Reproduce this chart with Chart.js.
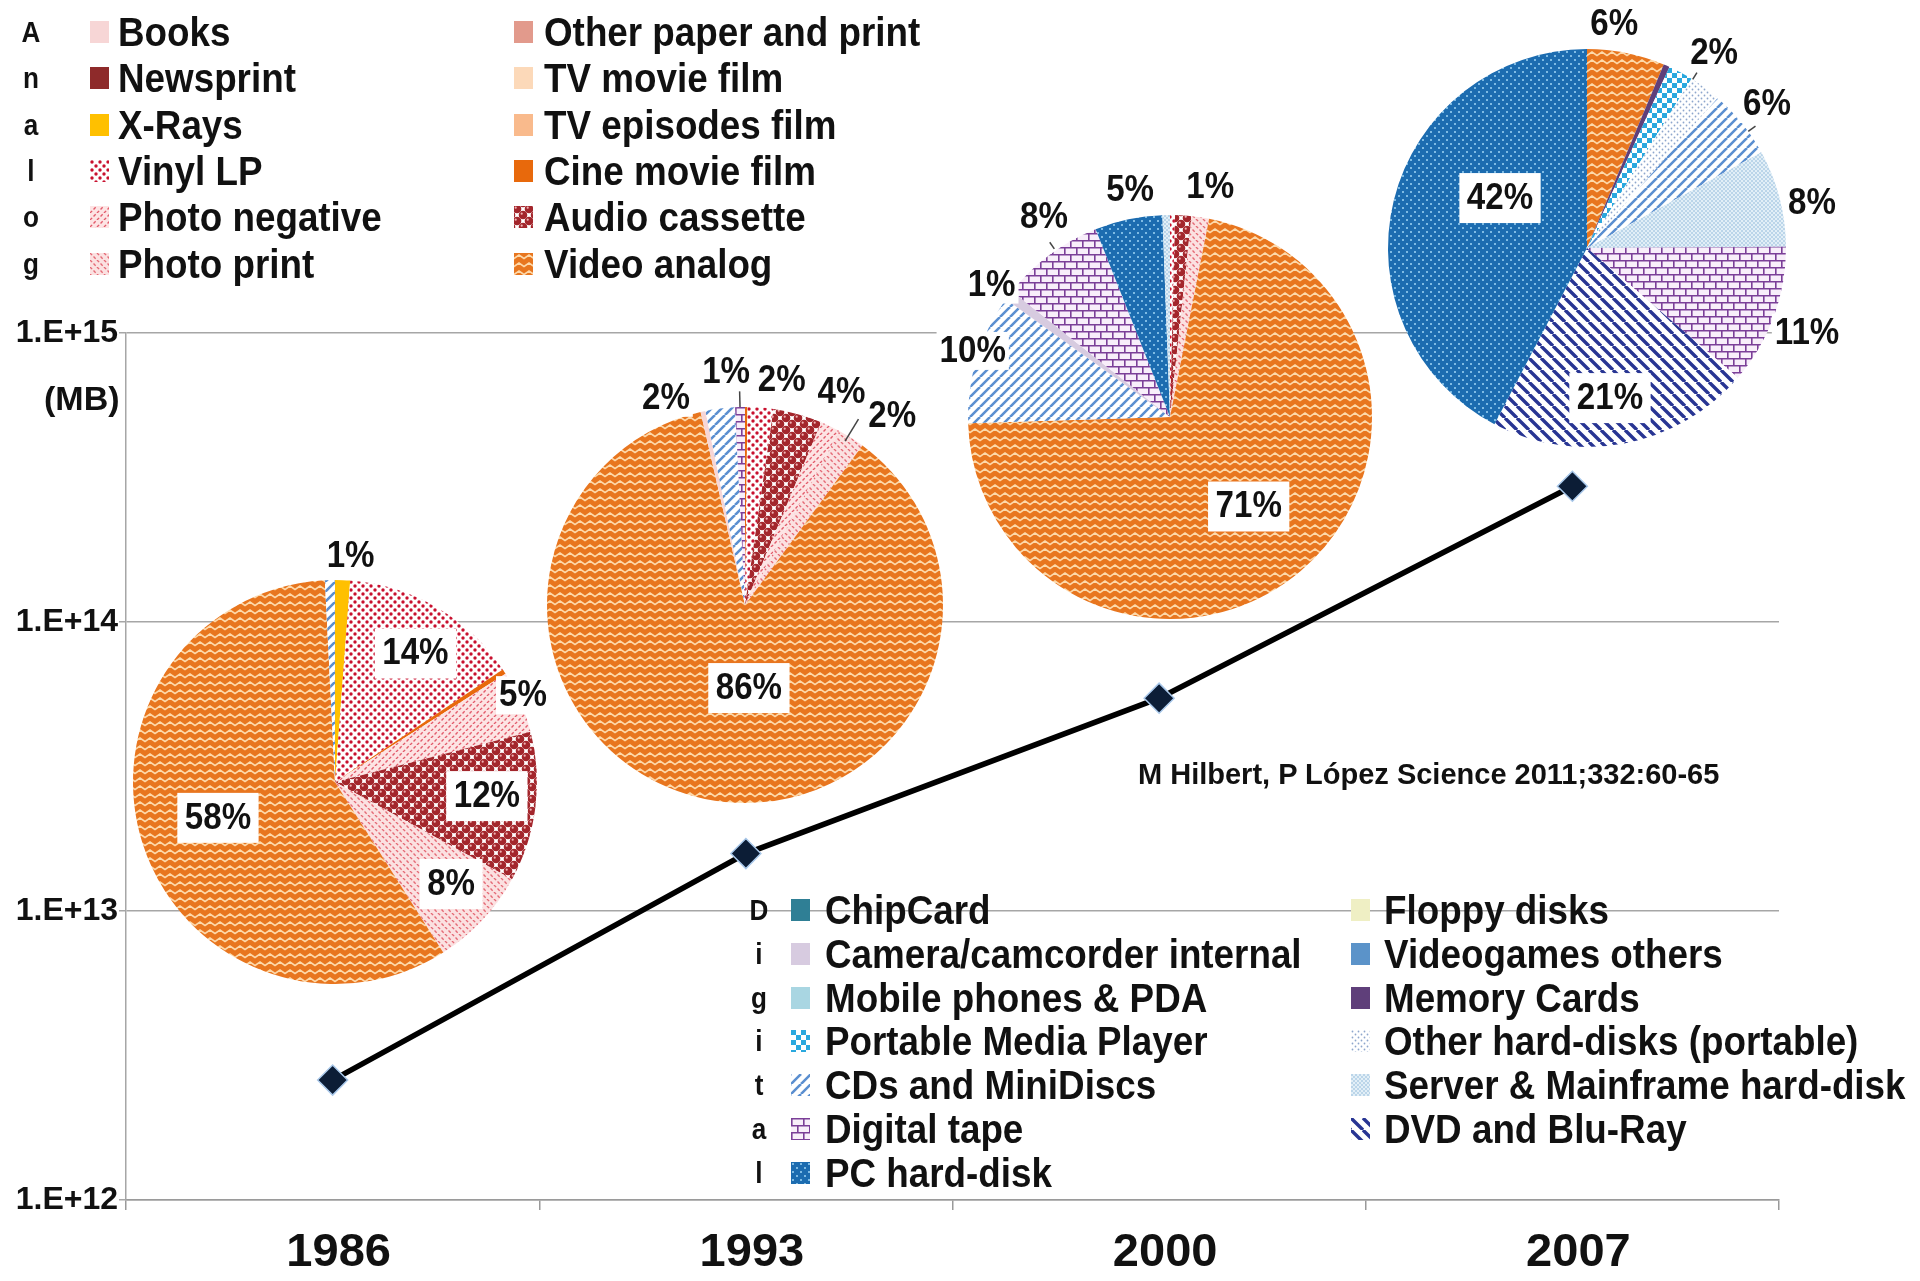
<!DOCTYPE html>
<html><head><meta charset="utf-8">
<script src="https://cdn.jsdelivr.net/npm/chart.js@4.4.1/dist/chart.umd.min.js"></script>
<style>
html,body{margin:0;padding:0;background:#fff;}
#wrap{position:relative;width:1920px;height:1281px;overflow:hidden;background:#fff;}
#wrap canvas{position:absolute;}
.t{position:absolute;white-space:nowrap;color:#111;line-height:1;transform:translateY(-50%);
   font-family:'Liberation Sans',Arial,sans-serif;}
.leg{font-weight:bold;font-size:40px;transform:translateY(-50%) scaleX(0.92);transform-origin:left center;}
.let{font-size:29px;font-weight:bold;transform:translate(-50%,-50%) scaleX(0.9);}
</style></head>
<body><div id="wrap"><canvas id="main" width="1920" height="1281"></canvas></div>
<script>
// ---------------- data ----------------
const years = ['1986', '1993', '2000', '2007'];
const storageMB = [2.6e12, 1.58e13, 5.45e13, 2.95e14];
const yTickValues = [1e12, 1e13, 1e14, 1e15];
const yTickLabels = ['1.E+12', '1.E+13', '1.E+14', '1.E+15'];

const analogCol1 = ['Books', 'Newsprint', 'X-Rays', 'Vinyl LP', 'Photo negative', 'Photo print'];
const analogCol2 = ['Other paper and print', 'TV movie film', 'TV episodes film', 'Cine movie film', 'Audio cassette', 'Video analog'];
const digitalCol1 = ['ChipCard', 'Camera/camcorder internal', 'Mobile phones & PDA', 'Portable Media Player', 'CDs and MiniDiscs', 'Digital tape', 'PC hard-disk'];
const digitalCol2 = ['Floppy disks', 'Videogames others', 'Memory Cards', 'Other hard-disks (portable)', 'Server & Mainframe hard-disk', 'DVD and Blu-Ray'];

const slices1986 = ['X-Rays', 'Vinyl LP', 'Cine movie film', 'Photo negative', 'Audio cassette', 'Photo print', 'Video analog', 'CDs and MiniDiscs'];
const shares1986 = [1.2, 14.4, 0.4, 5.0, 12.0, 8.0, 58.2, 0.8];
const slices1993 = ['Cine movie film', 'Vinyl LP', 'Audio cassette', 'Photo negative', 'Photo print', 'Video analog', 'Books', 'CDs and MiniDiscs', 'Digital tape'];
const shares1993 = [0.2, 2.1, 4.0, 1.6, 2.2, 86.3, 0.4, 2.4, 0.8];
const slices2000 = ['Vinyl LP', 'Audio cassette', 'Photo print', 'Video analog', 'CDs and MiniDiscs', 'Camera/camcorder internal', 'Digital tape', 'PC hard-disk', 'Server & Mainframe hard-disk'];
const shares2000 = [0.4, 1.3, 1.4, 71.4, 10.4, 0.8, 8.3, 5.4, 0.6];
const slices2007 = ['Video analog', 'Memory Cards', 'Portable Media Player', 'Other hard-disks (portable)', 'CDs and MiniDiscs', 'Server & Mainframe hard-disk', 'Digital tape', 'DVD and Blu-Ray', 'PC hard-disk'];
const shares2007 = [6.3, 0.5, 2.0, 2.6, 5.6, 7.9, 11.4, 21.4, 42.3];

const citation = 'M Hilbert, P López Science 2011;332:60-65';

// ---------------- layout / style ----------------
const FONT = "'Liberation Sans',Arial,sans-serif";
// label placement per pie: [slice index, radius factor, angle offset (deg), leader (optional)]
const pieLayout = [
  {cx: 335, cy: 782, r: 202, names: slices1986, shares: shares1986,
   labels: [[0,1.12,1.8],[1,0.75,1.8],[3,1.025,-1.4],[4,0.755,-1.9],[5,0.765,-1.9],[6,0.606,0.6]]},
  {cx: 745, cy: 605, r: 198, names: slices1993, shares: shares1993,
   labels: [[7,1.12,-13.7],[8,1.18,-3.2,[1.0,1.08,0]],[1,1.15,4.8],[2,1.18,8.9],[4,1.21,5.5,[0.97,1.1,-1]],[5,0.42,-14.4]]},
  {cx: 1170, cy: 417, r: 202, names: slices2000, shares: shares2000,
   labels: [[2,1.156,1.3],[7,1.14,1.9],[6,1.17,4.3,[1.01,1.05,2]],[5,1.10,-0.5],[4,1.03,1.6],[3,0.59,-1.0]]},
  {cx: 1587, cy: 248, r: 199, names: slices2007, shares: shares2007,
   labels: [[0,1.134,-4.4],[2,1.17,5.0,[1.0,1.04,4]],[4,1.158,0.2,[1.0,1.045,3]],[5,1.153,3.3],[6,1.185,0.9],[7,0.763,2.1],[8,0.504,16.0]]}
];

// ---------------- fills ----------------
function mk(w, h, fn) {
  const c = document.createElement('canvas'); c.width = w; c.height = h;
  const g = c.getContext('2d'); fn(g, w, h); return g.createPattern(c, 'repeat');
}
function hatch(bg, fg, lw, size, dir, dash) {
  return mk(size, size, (g, w, h) => {
    g.fillStyle = bg; g.fillRect(0, 0, w, h);
    g.strokeStyle = fg; g.lineWidth = lw; if (dash) g.setLineDash(dash);
    g.beginPath();
    for (let k = -1; k <= 1; k++) {
      if (dir > 0) { g.moveTo(k * w, h); g.lineTo(k * w + w, 0); }
      else { g.moveTo(k * w, 0); g.lineTo(k * w + w, h); }
    }
    g.stroke();
  });
}
function dots(bg, fg, rad, size, pts) {
  return mk(size, size, (g, w, h) => {
    g.fillStyle = bg; g.fillRect(0, 0, w, h); g.fillStyle = fg;
    pts.forEach(([x, y]) => {
      for (let a = -1; a <= 1; a++) for (let b = -1; b <= 1; b++) {
        g.beginPath(); g.arc(x + a * w, y + b * h, rad, 0, Math.PI * 2); g.fill();
      }
    });
  });
}
const FILL = {
  'Books': '#f7d6d6',
  'Other paper and print': '#e29a8c',
  'Newsprint': '#8e2a2a',
  'TV movie film': '#fcd9b9',
  'X-Rays': '#ffc000',
  'TV episodes film': '#f9ba8c',
  'Vinyl LP': dots('#ffffff', '#c8102e', 1.7, 8, [[2, 2], [6, 6]]),
  'Cine movie film': '#e8690c',
  'Photo negative': hatch('#fde4e4', '#e25c6c', 1.4, 7, 1, [3, 2]),
  'Audio cassette': mk(12, 12, (g, w, h) => {
    g.fillStyle = '#fff'; g.fillRect(0, 0, w, h);
    [[3, 3], [9, 9]].forEach(([x, y]) => {
      for (let a = -1; a <= 1; a++) for (let b = -1; b <= 1; b++) {
        g.fillStyle = '#a3262c'; g.beginPath(); g.arc(x + a * w, y + b * h, 4.3, 0, Math.PI * 2); g.fill();
        g.fillStyle = '#f0b4b4'; g.beginPath(); g.arc(x + a * w - 1.3, y + b * h - 1.3, 1.1, 0, Math.PI * 2); g.fill();
      }
    });
  }),
  'Photo print': hatch('#fbe1e1', '#e46a76', 1.4, 7, -1, [3, 2]),
  'Video analog': mk(10, 8, (g, w, h) => {
    g.fillStyle = '#e8761f'; g.fillRect(0, 0, w, h);
    g.strokeStyle = '#fdd9aa'; g.lineWidth = 1.6;
    g.beginPath(); g.moveTo(-5, 2); g.lineTo(0, 5.5); g.lineTo(5, 2); g.lineTo(10, 5.5); g.lineTo(15, 2); g.stroke();
  }),
  'ChipCard': '#2f7f95',
  'Camera/camcorder internal': '#d7cbe0',
  'Mobile phones & PDA': '#a9d6e2',
  'Portable Media Player': mk(10, 10, (g, w, h) => {
    g.fillStyle = '#fff'; g.fillRect(0, 0, w, h); g.fillStyle = '#2aa8de';
    g.fillRect(0, 0, 5, 5); g.fillRect(5, 5, 5, 5);
  }),
  'CDs and MiniDiscs': hatch('#ffffff', '#5b8fd0', 2.6, 10, 1),
  'Digital tape': mk(24, 14, (g, w, h) => {
    g.fillStyle = '#f8eefa'; g.fillRect(0, 0, w, h);
    g.strokeStyle = '#7b3f98'; g.lineWidth = 1.6; g.beginPath();
    g.moveTo(0, 0.8); g.lineTo(w, 0.8); g.moveTo(0, 7.8); g.lineTo(w, 7.8);
    g.moveTo(0.8, 0.8); g.lineTo(0.8, 7.8); g.moveTo(12.8, 0.8); g.lineTo(12.8, 7.8);
    g.moveTo(6.8, 7.8); g.lineTo(6.8, 14.8); g.moveTo(18.8, 7.8); g.lineTo(18.8, 14.8);
    g.stroke();
  }),
  'PC hard-disk': dots('#1c6cb0', '#9fd6f6', 1.0, 8, [[2, 2], [6, 6]]),
  'Floppy disks': '#efefc4',
  'Videogames others': '#5b93c9',
  'Memory Cards': '#5f3f7a',
  'Other hard-disks (portable)': dots('#ffffff', '#8ea6cc', 0.9, 6, [[1.5, 1.5], [4.5, 4.5]]),
  'Server & Mainframe hard-disk': dots('#e2eff7', '#78a6cf', 0.7, 4, [[1, 1], [3, 3]]),
  'DVD and Blu-Ray': hatch('#ffffff', '#283593', 3.4, 12, -1)
};

const wrap = document.getElementById('wrap');

// ---------------- main line chart ----------------
new Chart(document.getElementById('main'), {
  type: 'line',
  data: {labels: years, datasets: [{
    data: storageMB, borderColor: '#000', borderWidth: 5.5, tension: 0,
    pointStyle: 'rectRot', pointRadius: 15, pointBackgroundColor: '#0c1d36',
    pointBorderColor: '#a9c8ea', pointBorderWidth: 1.5, clip: false
  }]},
  options: {
    responsive: false, animation: false, devicePixelRatio: 1,
    layout: {padding: {top: 333, right: 141, left: 0, bottom: 0}},
    plugins: {legend: {display: false}, tooltip: {enabled: false}},
    scales: {
      x: {type: 'category', offset: true,
          grid: {offset: true, drawOnChartArea: false, drawTicks: true, tickLength: 10, color: '#9a9a9a', lineWidth: 1.5},
          border: {display: true, color: '#9a9a9a', width: 1.5},
          ticks: {font: {family: FONT, size: 47, weight: 'bold'}, color: '#111', padding: 15, maxRotation: 0, labelOffset: 6},
          afterFit: s => { s.height = 81; }},
      y: {type: 'logarithmic', min: yTickValues[0], max: yTickValues[yTickValues.length - 1],
          afterBuildTicks: s => { s.ticks = yTickValues.map(v => ({value: v, major: true})); },
          ticks: {callback: v => yTickLabels[yTickValues.indexOf(v)], font: {family: FONT, size: 32, weight: 'bold'}, color: '#111', padding: 1},
          grid: {color: '#a6a6a6', lineWidth: 1.5, tickLength: 7},
          border: {display: true, color: '#a6a6a6', width: 1.5},
          afterFit: s => { s.width = 126; }}
    }
  }
});

// ---------------- pies ----------------
const pieLabelPlugin = {
  id: 'pieLabels',
  afterDatasetsDraw(chart, args, opts) {
    const ctx = chart.ctx, meta = chart.getDatasetMeta(0), vals = chart.data.datasets[0].data;
    const total = vals.reduce((a, b) => a + b, 0);
    const SX = 0.92;
    ctx.save();
    ctx.font = 'bold 36px ' + FONT; ctx.textAlign = 'center'; ctx.textBaseline = 'middle';
    (opts.spec || []).forEach(([i, f, off, lead]) => {
      const arc = meta.data[i];
      const mid = (arc.startAngle + arc.endAngle) / 2;
      const a = mid + off * Math.PI / 180;
      const rr = arc.outerRadius * f;
      const x = arc.x + Math.cos(a) * rr, y = arc.y + Math.sin(a) * rr;
      const txt = Math.round(vals[i] / total * 100) + '%';
      const inside = f < 1;
      const w = ctx.measureText(txt).width * SX + (inside ? 15 : 6), h = inside ? 50 : 38;
      if (lead) {
        const la = mid + lead[2] * Math.PI / 180, R = arc.outerRadius;
        ctx.strokeStyle = '#444'; ctx.lineWidth = 1.5; ctx.beginPath();
        ctx.moveTo(arc.x + Math.cos(la) * R * lead[0], arc.y + Math.sin(la) * R * lead[0]);
        ctx.lineTo(arc.x + Math.cos(la) * R * lead[1], arc.y + Math.sin(la) * R * lead[1]);
        ctx.stroke();
      }
      ctx.fillStyle = '#fff'; ctx.fillRect(x - w / 2, y - h / 2, w, h);
      ctx.save(); ctx.translate(x, y + 1); ctx.scale(SX, 1);
      ctx.fillStyle = '#111'; ctx.fillText(txt, 0, 0);
      ctx.restore();
    });
    ctx.restore();
  }
};
pieLayout.forEach(p => {
  const S = 620;
  const c = document.createElement('canvas'); c.width = S; c.height = S;
  c.style.left = (p.cx - S / 2) + 'px'; c.style.top = (p.cy - S / 2) + 'px';
  wrap.appendChild(c);
  new Chart(c, {
    type: 'pie',
    data: {labels: p.names, datasets: [{data: p.shares, backgroundColor: p.names.map(n => FILL[n]), borderWidth: 0}]},
    options: {responsive: false, animation: false, devicePixelRatio: 1,
      layout: {padding: S / 2 - p.r},
      plugins: {legend: {display: false}, tooltip: {enabled: false}, pieLabels: {spec: p.labels}}},
    plugins: [pieLabelPlugin]
  });
});

// ---------------- legends & texts ----------------
function addText(txt, x, y, cls, extra) {
  const d = document.createElement('div'); d.className = 't ' + cls; d.textContent = txt;
  d.style.left = x + 'px'; d.style.top = y + 'px'; if (extra) Object.assign(d.style, extra);
  wrap.appendChild(d); return d;
}
function swatch(name, x, y) {
  const c = document.createElement('canvas'); c.width = 19; c.height = 22;
  c.style.left = x + 'px'; c.style.top = (y - 11) + 'px';
  const g = c.getContext('2d'); g.fillStyle = FILL[name]; g.fillRect(0, 0, 19, 22);
  wrap.appendChild(c);
}
function legendBlock(word, letterX, cols, y0, dy) {
  word.split('').forEach((ch, i) => addText(ch, letterX, y0 + i * dy, 'let'));
  cols.forEach(col => col.items.forEach((n, i) => {
    swatch(n, col.sx, y0 + i * dy);
    addText(n, col.tx, y0 + i * dy, 'leg');
  }));
}
legendBlock('Analog', 31, [{items: analogCol1, sx: 90, tx: 118}, {items: analogCol2, sx: 514, tx: 544}], 32, 46.3);
legendBlock('Digital', 759, [{items: digitalCol1, sx: 791, tx: 825}, {items: digitalCol2, sx: 1351, tx: 1384}], 910, 43.8);

addText('(MB)', 44, 398, '', {fontWeight: 'bold', fontSize: '34px'});
addText(citation, 1138, 774, '', {fontWeight: 'bold', fontSize: '29px'});
</script></body></html>
